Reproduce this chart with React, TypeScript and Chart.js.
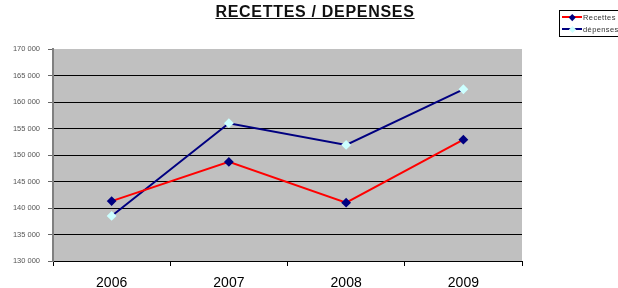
import React, { useEffect, useRef } from "react";
import { Chart, registerables } from "chart.js";

Chart.register(...registerables);

const categories = ["2006", "2007", "2008", "2009"];
const recettes = [141300, 148700, 141000, 152900];
const depenses = [138500, 156000, 151900, 162400];
const yMin = 130000;
const yMax = 170000;
const yStep = 5000;

const fmt = (v: number) => {
  const s = String(Math.round(v));
  return s.replace(/\B(?=(\d{3})+(?!\d))/g, " ");
};

export default function App() {
  const ref = useRef<HTMLCanvasElement | null>(null);
  useEffect(() => {
    if (!ref.current) return;
    const chart = new Chart(ref.current, {
      type: "line",
      data: {
        labels: categories,
        datasets: [
          {
            label: "Recettes",
            data: recettes,
            borderColor: "#ff0000",
            borderWidth: 2,
            pointStyle: "rectRot",
            pointRadius: 3.5,
            pointBackgroundColor: "#000080",
            pointBorderColor: "#000080",
            tension: 0,
          },
          {
            label: "dépenses",
            data: depenses,
            borderColor: "#000080",
            borderWidth: 2,
            pointStyle: "rectRot",
            pointRadius: 3.5,
            pointBackgroundColor: "#ccffff",
            pointBorderColor: "#ccffff",
            tension: 0,
          },
        ],
      },
      options: {
        animation: false,
        responsive: false,
        maintainAspectRatio: false,
        layout: { padding: { top: 49, right: 96, left: 0, bottom: 0 } },
        plugins: {
          legend: { display: false },
          title: { display: false },
          tooltip: { enabled: false },
        },
        scales: {
          x: {
            offset: true,
            afterFit: (s: any) => {
              s.height = 27;
            },
            grid: {
              offset: true,
              drawOnChartArea: false,
              drawTicks: true,
              tickLength: 5,
              color: "#000",
            },
            border: { color: "#000", width: 1 },
            ticks: {
              color: "#000",
              font: { family: "Liberation Sans, Arial", size: 14 },
              padding: 9,
            },
          },
          y: {
            min: yMin,
            max: yMax,
            afterFit: (s: any) => {
              s.width = 53;
            },
            grid: {
              color: (ctx: any) => (ctx.tick && ctx.tick.value === yMax ? "rgba(0,0,0,0)" : "#000"),
              tickColor: "#666",
              drawTicks: true,
              tickLength: 5,
            },
            border: { color: "#808080", width: 2 },
            ticks: {
              stepSize: yStep,
              color: "#555",
              padding: 8,
              font: { family: "Liberation Sans, Arial", size: 7.5 },
              callback: (v: any) => fmt(Number(v)),
            },
          },
        },
      },
      plugins: [
        {
          id: "bg",
          beforeDraw: (c: any) => {
            const { ctx, chartArea } = c;
            ctx.save();
            ctx.fillStyle = "#c0c0c0";
            ctx.fillRect(chartArea.left, chartArea.top, chartArea.right - chartArea.left, chartArea.bottom - chartArea.top);
            ctx.restore();
          },
        },
      ],
    });
    return () => chart.destroy();
  }, []);

  return (
    <div style={{ position: "absolute", left: 0, top: 0, width: 618, height: 288, background: "#fff", overflow: "hidden" }}>
      <canvas ref={ref} width={618} height={288} style={{ position: "absolute", left: 0, top: 0, width: 618, height: 288 }} />
      <div
        style={{
          position: "absolute",
          left: 0,
          width: 630,
          top: 3,
          textAlign: "center",
          fontFamily: "Liberation Sans, Arial",
          fontWeight: "bold",
          fontSize: 16,
          letterSpacing: 0.7,
          textDecoration: "underline",
          color: "#111",
        }}
      >
        RECETTES / DEPENSES
      </div>
      <div
        style={{
          position: "absolute",
          left: 559,
          top: 10,
          width: 70,
          height: 25,
          border: "1px solid #000",
          background: "#fff",
          fontFamily: "Liberation Sans, Arial",
          fontSize: 7.5,
          letterSpacing: 0.4,
          color: "#333",
        }}
      >
        <div style={{ position: "absolute", left: 2, top: 5, width: 20, height: 2, background: "#ff0000" }} />
        <div style={{ position: "absolute", left: 10, top: 3.5, width: 4.5, height: 4.5, background: "#000080", transform: "rotate(45deg)" }} />
        <div style={{ position: "absolute", left: 23, top: 1.5 }}>Recettes</div>
        <div style={{ position: "absolute", left: 2, top: 17, width: 20, height: 2, background: "#000080" }} />
        <div style={{ position: "absolute", left: 9.5, top: 15.5, width: 5, height: 5, background: "#ccffff", transform: "rotate(45deg)" }} />
        <div style={{ position: "absolute", left: 23, top: 13.5 }}>dépenses</div>
      </div>
    </div>
  );
}
